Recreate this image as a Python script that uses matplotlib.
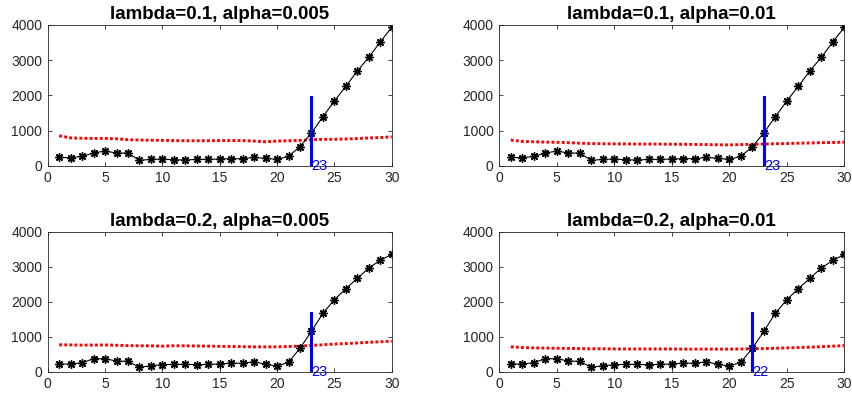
import matplotlib
matplotlib.use("Agg")
import matplotlib.pyplot as plt
import numpy as np

plt.rcParams["font.family"] = ["Liberation Sans", "DejaVu Sans"]

x = np.arange(1, 31)

# black curves (lambda=0.1 and lambda=0.2)
err_l01 = [237, 227, 265, 360, 417, 360, 360, 152, 180, 190, 170, 161, 180, 180, 190,
           199, 199, 237, 209, 180, 265, 540, 929, 1393, 1839, 2256, 2692, 3081, 3517, 3934]
err_l02 = [219, 219, 257, 371, 371, 305, 295, 124, 171, 200, 210, 210, 200, 210, 219,
           248, 238, 286, 210, 162, 267, 667, 1152, 1667, 2057, 2371, 2667, 2962, 3181, 3352]

# red dotted curves
red_a = [850, 790, 780, 775, 775, 765, 740, 730, 725, 720, 715, 710, 710, 710, 715,
         715, 715, 700, 680, 700, 710, 720, 740, 750, 750, 760, 770, 790, 800, 820]
red_b = [730, 690, 680, 670, 665, 655, 640, 630, 625, 620, 620, 615, 615, 615, 610,
         610, 605, 600, 595, 590, 600, 610, 615, 625, 630, 640, 645, 655, 660, 670]
red_c = [770, 765, 760, 760, 765, 755, 745, 740, 740, 730, 740, 740, 735, 730, 725,
         720, 715, 710, 710, 710, 720, 730, 750, 770, 790, 805, 820, 840, 855, 870]
red_d = [710, 690, 680, 675, 670, 665, 660, 655, 655, 650, 650, 650, 650, 650, 650,
         645, 645, 645, 645, 645, 650, 655, 660, 670, 680, 690, 700, 715, 730, 745]

titles = ["lambda=0.1, alpha=0.005", "lambda=0.1, alpha=0.01",
          "lambda=0.2, alpha=0.005", "lambda=0.2, alpha=0.01"]
blacks = [err_l01, err_l01, err_l02, err_l02]
reds = [red_a, red_b, red_c, red_d]
cuts = [23, 23, 23, 22]

W, H = 853, 398
fig = plt.figure(figsize=(W / 100, H / 100), dpi=100)
lefts = [47.7, 499.3]
tops = [25, 231.7]
heights = [140.7, 140]
widths = [344, 345]

gray = "#262626"
for i in range(4):
    r, c = divmod(i, 2)
    ax = fig.add_axes([lefts[c] / W, 1 - (tops[r] + heights[r]) / H,
                       widths[c] / W, heights[r] / H])
    blk = blacks[i]
    ax.plot(x, reds[i], color="red", lw=2.1, linestyle=(0, (1, 0.75)),
            dash_capstyle="butt")
    ax.plot(x, blk, color="black", lw=0.8, marker=(8, 2, 0), ms=6, mew=1.0)
    top = max(blk) / 2
    ax.plot([cuts[i], cuts[i]], [0, top], color="blue", lw=2.2)
    ax.text(cuts[i], 0, str(cuts[i]), color="blue", fontsize=10.5,
            ha="left", va="center")
    ax.set_xlim(0, 30)
    ax.set_ylim(0, 4000)
    ax.set_xticks(range(0, 31, 5))
    ax.set_yticks(range(0, 4001, 1000))
    ax.tick_params(direction="in", length=3, width=0.6, top=True, right=True,
                   labelsize=10, colors=gray, pad=4)
    for s in ax.spines.values():
        s.set_color(gray)
        s.set_linewidth(0.6)
    ax.set_title(titles[i], fontsize=13.5, fontweight="bold", pad=4)

fig.savefig("out.png", dpi=100)
